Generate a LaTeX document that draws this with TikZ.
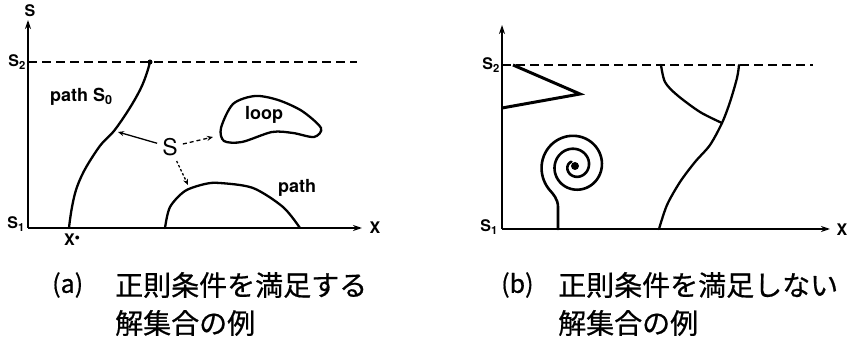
\documentclass[tikz,border=0pt]{standalone}
\usepackage{fontspec}
\setmainfont{TeX Gyre Heros}
\newfontfamily\cjk{Noto Sans CJK JP}[FakeBold=0.6]
\usetikzlibrary{arrows.meta}
\begin{document}
\begin{tikzpicture}[x=1pt,y=-1pt,
  curve/.style={line width=2.3pt, line cap=round, line join=round},
  axis/.style={line width=2.2pt, -{Stealth[length=9pt,width=6pt]}},
  lim/.style={line width=1.8pt, dash pattern=on 9pt off 5pt},
  lbl/.style={font=\bfseries\fontsize{18}{18}\selectfont, inner sep=0pt},
  ax/.style={font=\bfseries\fontsize{16}{16}\selectfont, inner sep=0pt},
  captxt/.style={font=\cjk\fontsize{28}{28}\selectfont, inner sep=0pt, anchor=west},
  caplab/.style={font=\cjk\fontsize{25}{25}\selectfont, inner sep=0pt, anchor=west},
  ptr/.style={line width=1.3pt, -{Stealth[length=6pt,width=5pt]}}
]
\useasboundingbox (0,0) rectangle (851,347);

% ---------- panel (a) ----------
\coordinate (Ao) at (28,228);
\coordinate (Ay) at (28,20);
\coordinate (Ax) at (362,228);
\coordinate (As2) at (28,62);
\coordinate (As2e) at (357,62);
\draw[axis] (Ao) -- (Ay);
\draw[axis] (Ao) -- (Ax);
\draw[lim] (As2) -- (As2e);

\node[ax] (aS) at (30,11) {S};
\node[ax, anchor=east] (aS2) at (26,62) {S\textsubscript{2}};
\node[ax, anchor=east] (aS1) at (25,224) {S\textsubscript{1}};
\node[ax] (aX) at (375,228) {X};
\node[ax, anchor=north west] (aXs) at (64,234) {X\raisebox{5pt}{\fontsize{10}{10}\selectfont$\bullet$}};

% path S0
\draw[curve] plot[smooth, tension=0.7] coordinates {(69,228) (77,187) (97,150) (117,127) (140,90) (150,62)};
\fill (150,62) circle (2.5pt);
% lower path (hump)
\draw[curve] plot[smooth] coordinates {(165,228) (170,207) (185,191) (205,184) (220,183) (253,188) (283,207) (300,228)};
% loop
\draw[curve] plot[smooth cycle] coordinates {(221,128) (233,104) (255,96) (278,100) (302,111) (321,128) (314,137) (293,133) (272,132) (242,142) (224,141)};

\node[lbl, anchor=west] (pS0) at (50,97) {path S\textsubscript{0}};
\node[lbl] (loopL) at (264,115) {loop};
\node[lbl] (pathL) at (297,188) {path};
\node[font=\fontsize{23}{23}\selectfont, inner sep=5pt] (S) at (170,147) {S};

\coordinate (t1) at (118,132);
\coordinate (t2) at (213,137);
\coordinate (t3) at (188,185);
\draw[ptr] (S) -- (t1);
\draw[ptr, dash pattern=on 4pt off 3pt] (S) -- (t2);
\draw[ptr, dash pattern=on 2.5pt off 2pt] (S) -- (t3);

% ---------- panel (b) ----------
\coordinate (Bo) at (502,229);
\coordinate (By) at (502,25);
\coordinate (Bx) at (830,229);
\coordinate (Bs2) at (502,65);
\coordinate (Bs2e) at (813,65);
\draw[axis] (Bo) -- (By);
\draw[axis] (Bo) -- (Bx);
\draw[lim] (Bs2) -- (Bs2e);

\node[ax, anchor=east] (bS2) at (500,65) {S\textsubscript{2}};
\node[ax, anchor=east] (bS1) at (498,227) {S\textsubscript{1}};
\node[ax] (bX) at (842,230) {X};

% zigzag
\draw[line width=3pt, line join=miter] (513,65) -- (580,94) -- (502,108);
% spiral
\draw[curve, line width=2.6pt] (558,229) -- (558,207) .. controls (558,199) and (553,194) .. (550.3,190.7)
  -- plot[domain=135:950, samples=220, variable=\t] ({575+(35-13*(\t-135)/360)*cos(\t)}, {166+(35-13*(\t-135)/360)*sin(\t)});
\fill (575,166) circle (4pt);
% right curve and branch
\draw[curve] plot[smooth] coordinates {(659,229) (667,205) (680,182) (695,162) (710,145) (722,123) (730,102) (737,78) (739,65)};
\draw[curve] plot[smooth] coordinates {(722,123) (700,112) (677,95) (665,82) (661,65)};

% ---------- captions ----------
\node[caplab] (ca) at (52,285) {(a)};
\node[captxt] (ca1) at (115,285) {正則条件を満足する};
\node[captxt] (ca2) at (115,323) {解集合の例};
\node[caplab] (cb) at (501,285) {(b)};
\node[captxt] (cb1) at (558,285) {正則条件を満足しない};
\node[captxt] (cb2) at (558,323) {解集合の例};
\end{tikzpicture}
\end{document}
